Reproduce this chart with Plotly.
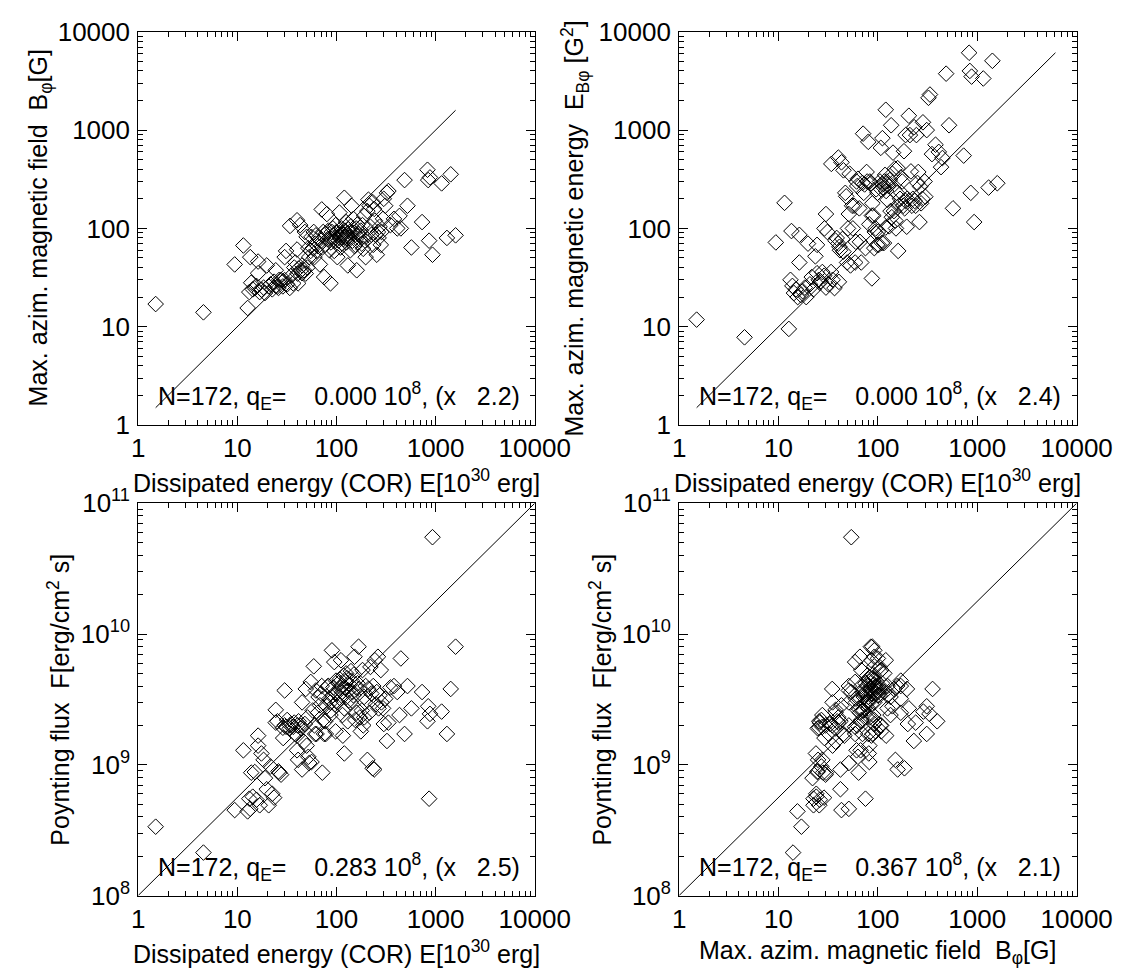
import plotly.graph_objects as go

# ---------------- data (one entry per event, same order in every list) -------------
E_COR = [1.5, 4.55, 9.4,
         11.5, 12.7, 13.2, 13.5, 13.8, 14.3, 15.0, 15.6, 16.2, 16.2, 16.8, 17.5, 18.4, 19.0, 19.8,
         20.7, 21.6, 22.5, 23.5, 24.4, 24.4, 25.4, 26.0, 26.5, 27.6, 28.8, 29.0, 30.0, 30.0, 31.0,
         31.8, 33.8, 34.0, 35.0, 36.6, 37.5, 38.5, 40.0, 40.0, 40.5, 41.0, 41.5, 43.0, 44.0, 45.0,
         45.0, 47.0, 48.0, 49.0, 50.0,
         51, 52, 53, 55, 56, 57.6, 59, 60, 61, 62, 63, 65, 66, 68, 70, 71, 72, 73.5, 75, 77, 78,
         80, 82, 83, 85, 87, 87, 88, 90, 92, 93, 95, 96, 98, 99,
         100, 102, 105, 107, 108, 110, 111, 112, 114, 115, 116, 118, 120, 120, 121, 123, 125, 126,
         128, 130, 132, 134, 136, 138, 140, 142, 145, 148, 150, 152, 155, 158, 160, 163, 167, 170,
         172, 176, 180, 183, 186, 190, 190, 195, 197,
         205, 210, 215, 220, 225, 232, 235, 240, 244, 250, 255, 262, 266, 272, 280, 284, 295, 300,
         310, 323, 334, 350, 380, 410, 432, 446, 486,
         520, 570, 730, 828, 842, 860, 877, 930, 1150, 1300, 1420, 1590]

B_PHI = [17, 14, 43,
         67, 15.5, 22.5, 51, 28, 24, 24.6, 26, 46, 35, 22.5, 23.8, 25, 22, 42,
         25.7, 27, 24, 28.7, 37.5, 26, 25.7, 24.8, 30, 29.8, 25.7, 29, 51, 29.8, 59,
         27, 24.8, 106, 33, 27.6, 40, 45, 121, 61, 34.7, 27.6, 39, 108, 37.5, 42,
         35, 37.5, 92, 34.7, 82,
         40, 63, 51, 59, 82, 63, 92, 51, 70, 85, 59, 66, 80, 43, 75, 156, 64, 92, 32, 68, 88,
         140, 78, 95, 60, 27.6, 80, 72, 92, 100, 85, 59, 74, 108, 90,
         92, 51, 75, 145, 80, 64, 86, 100, 70, 90, 86, 78, 205, 81, 95, 82, 116, 72,
         88, 42, 98, 80, 92, 60, 105, 170, 75, 125, 90, 66, 68, 100, 37.5, 110, 88, 85,
         78, 95, 70, 108, 62, 83, 134, 75, 51,
         150, 196, 170, 104, 86, 185, 68, 158, 120, 86, 54, 92, 80, 104, 68, 92, 125, 200,
         170, 230, 240, 108, 125, 100, 134, 100, 310,
         170, 64, 116, 395, 310, 75, 330, 54, 287, 80, 355, 85]

E_BPHI = [11.8, 7.8, 72,
          182, 9.5, 30, 94, 26, 22, 24, 20, 86, 45, 21, 23, 25, 20, 70,
          27, 32, 24, 52, 68, 35, 30, 28, 29, 36, 33, 100, 140, 25, 92,
          27, 36, 453, 30, 24.7, 75, 80, 525, 70, 28.6, 65, 60, 470, 78, 390,
          58, 230, 212, 45, 100,
          140, 360, 42, 170, 100, 170, 45, 73, 300, 270, 320, 160, 73, 45, 290, 920, 230, 280, 63, 375, 300,
          760, 110, 300, 288, 31, 135, 180, 135, 63, 92, 100, 250, 68, 230,
          92, 68, 300, 660, 250, 71, 828, 280, 260, 71, 300, 350, 1610, 102, 240, 300, 195, 280,
          270, 105, 310, 150, 1120, 130, 360, 590, 150, 406, 120, 100, 230, 410, 59, 170, 200, 330,
          230, 300, 170, 610, 160, 190, 890, 104, 200,
          1400, 890, 380, 170, 200, 1070, 190, 170, 890, 290, 375, 116, 266, 180, 200, 1200, 300, 210,
          1000, 2130, 2300, 570, 710, 600, 420, 520, 3750,
          1120, 160, 550, 6120, 4000, 230, 3500, 116, 3350, 260, 5070, 288]

FLUX = [3.36e8, 2.13e8, 4.5e8,
        1.29e9, 4.4e8, 5.5e8, 4.6e8, 8.7e8, 5.7e8, 8.8e8, 5.4e8, 1.67e9, 1.4e9, 4.9e8, 1.22e9, 1.09e9, 7.9e8, 6.5e8,
        4.9e8, 9.7e8, 6.0e8, 5.6e8, 2.63e9, 2.1e9, 2.15e9, 8.9e8, 8.7e8, 8.4e8, 1.92e9, 1.6e9, 3.7e9, 2.0e9, 1.95e9,
        2.2e9, 1.9e9, 2.0e9, 2.05e9, 1.95e9, 2.1e9, 1.72e9, 1.67e9, 1.29e9, 2.0e9, 1.09e9, 2.15e9, 2.0e9, 1.9e9, 9.2e8,
        3.0e9, 1.5e9, 2.05e9, 3.8e9, 1.4e9,
        2.3e9, 1.15e9, 1.03e9, 4.3e9, 1.05e9, 2.6e9, 5.66e9, 2.0e9, 1.72e9, 3.7e9, 1.72e9, 2.5e9, 3.3e9, 2.85e9, 3.5e9, 4.0e9, 8.7e8, 2.2e9, 1.72e9, 2.15e9, 1.72e9,
        2.8e9, 4.0e9, 4.0e9, 3.2e9, 2.4e9, 3.0e9, 2.6e9, 7.5e9, 3.4e9, 3.9e9, 6.1e9, 2.9e9, 1.8e9, 4.4e9,
        3.5e9, 3.0e9, 4.2e9, 3.8e9, 4.5e9, 3.2e9, 6.3e9, 4.0e9, 3.6e9, 2.4e9, 1.67e9, 4.8e9, 2.7e9, 1.22e9, 3.9e9, 4.3e9, 5.0e9, 3.3e9,
        4.6e9, 2.15e9, 3.7e9, 3.1e9, 4.1e9, 3.0e9, 5.2e9, 4.4e9, 3.6e9, 3.4e9, 4.9e9, 6.7e9, 2.2e9, 3.9e9, 2.5e9, 4.2e9, 8.0e9, 3.8e9,
        2.3e9, 1.8e9, 2.6e9, 5.3e9, 2.0e9, 2.3e9, 3.3e9, 3.0e9, 4.0e9,
        1.09e9, 3.8e9, 2.5e9, 5.6e9, 3.5e9, 9.4e8, 4.0e9, 9.2e8, 6.3e9, 2.9e9, 3.6e9, 6.7e9, 2.7e9, 3.4e9, 5.3e9, 3.0e9, 2.7e9, 2.05e9,
        3.2e9, 1.52e9, 2.1e9, 3.9e9, 4.0e9, 3.6e9, 2.4e9, 6.5e9, 1.72e9,
        4.0e9, 2.7e9, 3.6e9, 2.15e9, 2.8e9, 5.5e8, 2.45e9, 5.5e10, 2.55e9, 1.72e9, 3.8e9, 8.0e9]

assert len(E_COR) == len(B_PHI) == len(E_BPHI) == len(FLUX) == 172

N_EVENTS = "172"
Q_VALUES = ["0.000", "0.000", "0.283", "0.367"]
SCATTER_FACTORS = ["2.2", "2.4", "2.5", "2.1"]

LABEL_E = "Dissipated energy (COR) E[10<sup>30</sup> erg]"
LABEL_B = "Max. azim. magnetic field\u00a0\u00a0B<sub>\u03c6</sub>[G]"
LABEL_EB = "Max. azim. magnetic energy\u00a0\u00a0E<sub>B\u03c6</sub> [G<sup>2</sup>]"
LABEL_F = "Poynting flux\u00a0\u00a0F[erg/cm<sup>2</sup> s]"

DEC_TICKS = [1, 10, 100, 1000, 10000]
DEC_TEXT = ["1", "10", "100", "1000", "10000"]
F_TICKS = [1e8, 1e9, 1e10, 1e11]
F_TEXT = ["10<sup>8</sup>", "10<sup>9</sup>", "10<sup>10</sup>", "10<sup>11</sup>"]

# ---------------- layout geometry ----------------
W, H = 1147, 974
FONT = "Liberation Sans, Arial, Helvetica, sans-serif"
TITLE_SIZE = 25
TICK_SIZE = 26
STAT_SIZE = 25


def px_x(p):
    return p / W


def px_y(p):
    return 1 - p / H


COLS = [(128, 540), (690, 1103)]
ROWS = [(6, 413), (494, 900)]


def minor_vals(lo_exp, hi_exp):
    vals = []
    for e in range(lo_exp, hi_exp):
        for m in range(2, 10):
            vals.append(m * 10 ** e)
    return vals


fig = go.Figure()

panels = [
    dict(x=E_COR, y=B_PHI, col=0, row=0, yr=(0, 4), yt=(DEC_TICKS, DEC_TEXT), ref="id",
         xl=LABEL_E, yl=LABEL_B, ylx=26),
    dict(x=E_COR, y=E_BPHI, col=1, row=0, yr=(0, 4), yt=(DEC_TICKS, DEC_TEXT), ref="id",
         xl=LABEL_E, yl=LABEL_EB, ylx=582),
    dict(x=E_COR, y=FLUX, col=0, row=1, yr=(8, 11), yt=(F_TICKS, F_TEXT), ref="diag",
         xl=LABEL_E, yl=LABEL_F, ylx=46),
    dict(x=B_PHI, y=FLUX, col=1, row=1, yr=(8, 11), yt=(F_TICKS, F_TEXT), ref="diag",
         xl=LABEL_B, yl=LABEL_F, ylx=609),
]

annotations = []
for i, p in enumerate(panels):
    k = "" if i == 0 else str(i + 1)
    xa, ya = "x" + k, "y" + k
    x0, x1 = COLS[p["col"]]
    y0, y1 = ROWS[p["row"]]

    # reference line
    if p["ref"] == "id":
        lo = min(min(p["x"]), min(p["y"]))
        hi = max(max(p["x"]), max(p["y"]))
        lx, ly = [lo, hi], [lo, hi]
    else:
        lx = [10 ** 0, 10 ** 4]
        ly = [10 ** p["yr"][0], 10 ** p["yr"][1]]
    fig.add_trace(go.Scatter(x=lx, y=ly, mode="lines", line=dict(color="black", width=1),
                             xaxis=xa, yaxis=ya, showlegend=False, hoverinfo="skip"))
    fig.add_trace(go.Scatter(x=p["x"], y=p["y"], mode="markers",
                             marker=dict(symbol="diamond-open", size=12, color="black",
                                         line=dict(width=1, color="black")),
                             xaxis=xa, yaxis=ya, showlegend=False))

    common = dict(type="log", showline=True, linecolor="black", linewidth=1, mirror="allticks",
                  ticks="inside", ticklen=9, tickwidth=1, tickcolor="black", showgrid=False,
                  zeroline=False, tickfont=dict(family=FONT, size=TICK_SIZE, color="black"),
                  minor=dict(ticks="inside", ticklen=5, tickwidth=1, tickcolor="black",
                             showgrid=False))
    xaxis = dict(common, domain=[px_x(x0), px_x(x1)], range=[0, 4], anchor=ya,
                 tickmode="array", tickvals=DEC_TICKS, ticktext=DEC_TEXT,
                 ticklabelstandoff=0)
    xaxis["minor"] = dict(common["minor"], tickvals=minor_vals(0, 4))
    yaxis = dict(common, domain=[px_y(y1), px_y(y0)], range=list(p["yr"]), anchor=xa,
                 tickmode="array", tickvals=p["yt"][0], ticktext=p["yt"][1],
                 ticklabelstandoff=2)
    yaxis["minor"] = dict(common["minor"], tickvals=minor_vals(p["yr"][0], p["yr"][1]))
    fig.update_layout(**{"xaxis" + k: xaxis, "yaxis" + k: yaxis})

    # axis titles
    annotations.append(dict(text=p["xl"], x=px_x((x0 + x1) / 2), y=px_y(y1 + 58),
                            xref="paper", yref="paper", showarrow=False,
                            xanchor="center", yanchor="middle",
                            font=dict(family=FONT, size=TITLE_SIZE, color="black")))
    annotations.append(dict(text=p["yl"], x=px_x(p["ylx"]), y=px_y((y0 + y1) / 2),
                            xref="paper", yref="paper", showarrow=False, textangle=-90,
                            xanchor="center", yanchor="middle",
                            font=dict(family=FONT, size=TITLE_SIZE, color="black")))
    # statistics text
    stat = ("N=" + N_EVENTS + ", q<sub>E</sub>=\u00a0\u00a0\u00a0\u00a0" + Q_VALUES[i]
            + " 10<sup>8</sup>, (x\u00a0\u00a0\u00a0" + SCATTER_FACTORS[i] + ")")
    annotations.append(dict(text=stat, x=px_x(x0 + 19), y=px_y(y1 - 30),
                            xref="paper", yref="paper", showarrow=False,
                            xanchor="left", yanchor="middle",
                            font=dict(family=FONT, size=STAT_SIZE, color="black")))

fig.update_layout(width=W, height=H, autosize=False,
                  margin=dict(l=0, r=0, t=0, b=0),
                  paper_bgcolor="white", plot_bgcolor="white",
                  annotations=annotations, showlegend=False)

fig.write_html("out.html")
